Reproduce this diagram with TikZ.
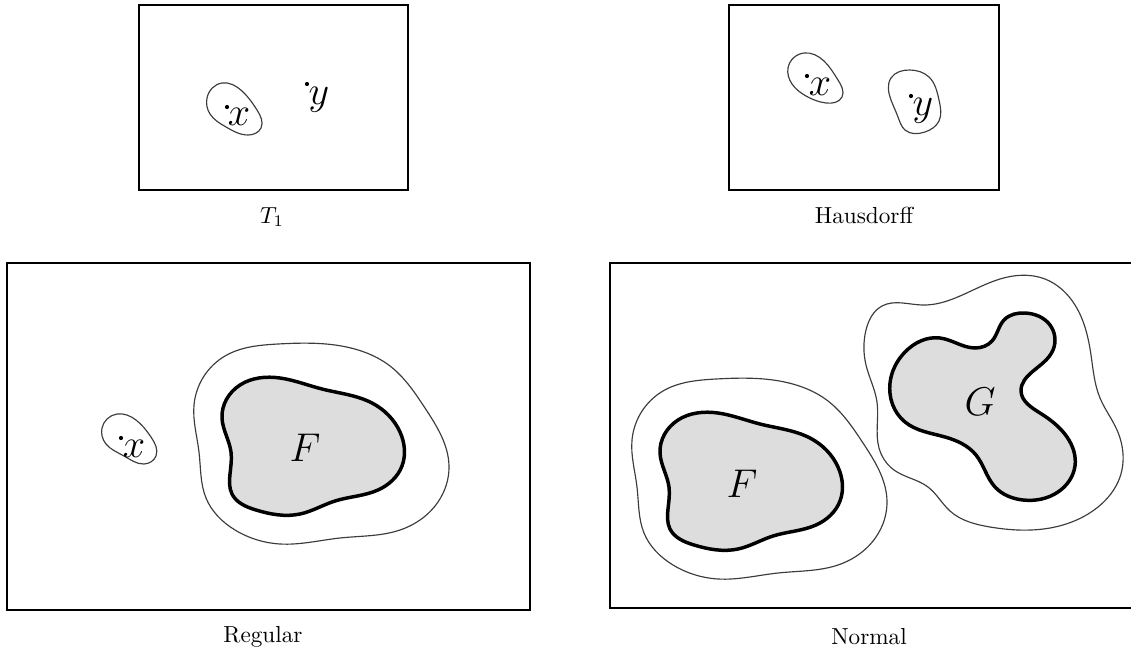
\documentclass[tikz,border=0pt]{standalone}
\usepackage{amsmath,amssymb}
\usepackage{tikz}
\usetikzlibrary{positioning,hobby}
\definecolor{setgrey}{RGB}{221,221,221}
\definecolor{nbhdline}{RGB}{60,60,60}
\tikzset{
  frame/.style={draw,line width=0.85pt},
  nbhd/.style={draw=nbhdline,line width=0.5pt},
  closedset/.style={draw=black,fill=setgrey,line width=1.5pt},
  pt/.style={fill=black},
  ptlabel/.style={inner sep=0pt,font=\fontsize{16}{19}\selectfont},
  caption/.style={inner sep=1pt,font=\normalsize}
}
% shared shapes of the closed set F and its open neighbourhood
\newcommand\Fcore{plot[closed hobby] coordinates{(222,418) (240,385) (280,378) (322,389) (372,403) (400,432) (402,466) (378,490) (335,501) (300,514) (256,510) (232,494) (230,474) (231,452)}}
\newcommand\Fnbhd{plot[closed hobby] coordinates{(194,405) (199,452) (206,498) (235,530) (280,544) (340,538) (400,530) (438,502) (449,466) (425,408) (390,366) (335,345) (278,344) (225,356)}}

\begin{document}
\begin{tikzpicture}[x=0.431pt,y=-0.431pt]
  \useasboundingbox (0,0) rectangle (1131,655);
  % T1
  \draw[frame] (139,5) rectangle (408,190);
  \draw[nbhd] plot[closed hobby] coordinates{(207,98) (222,83) (242,91) (257,110) (261,128) (248,135) (226,127) (210,114)};
  \fill[pt] (227,107) circle[radius=0.9pt];
  \node[ptlabel] (x1) at (239,117) {\(x\)};
  \fill[pt] (307,84) circle[radius=0.9pt];
  \node[ptlabel] (y1) at (319,100) {\(y\)};
  \node[caption] (capT) at (272,217) {\(T_1\)};
  % Hausdorff
  \draw[frame] (729,5) rectangle (999,190);
  \draw[nbhd] plot[closed hobby] coordinates{(788,68) (804,53) (824,61) (838,80) (842,97) (826,103) (806,96) (792,84)};
  \draw[nbhd] plot[closed hobby] coordinates{(891,78) (910,70) (929,77) (939,100) (939,121) (925,132) (905,130) (898,117) (891,100)};
  \fill[pt] (807,76) circle[radius=0.9pt];
  \node[ptlabel] (x2) at (820,87) {\(x\)};
  \fill[pt] (911,96) circle[radius=0.9pt];
  \node[ptlabel] (y2) at (923,111) {\(y\)};
  \node[caption] (capH) at (864,215) {Hausdorff};
  % Regular
  \draw[frame] (7,263) rectangle (530,610);
  \draw[nbhd] plot[closed hobby] coordinates{(102,428) (117,414) (136,420) (151,437) (156,456) (144,464) (124,456) (106,444)};
  \fill[pt] (121,438) circle[radius=0.9pt];
  \node[ptlabel] (x3) at (134,449) {\(x\)};
  \draw[nbhd] \Fnbhd;
  \filldraw[closedset] \Fcore;
  \node[ptlabel] (F1) at (305,448) {\(F\)};
  \node[caption] (capR) at (263,637) {Regular};
  % Normal
  \draw[frame] (610,263) rectangle (1134,608);
  \begin{scope}[shift={(438,35)}]
    \draw[nbhd] \Fnbhd;
    \filldraw[closedset] \Fcore;
  \end{scope}
  \node[ptlabel] (F2) at (742,484) {\(F\)};
  \draw[nbhd] plot[closed hobby] coordinates{(866,330) (882,306) (922,305) (1000,279) (1045,279) (1075,305) (1091,355) (1100,398) (1117,430) (1120,477) (1098,507) (1050,528) (990,527) (950,511) (928,487) (894,470) (879,448) (877,402) (866,365)};
  \filldraw[closedset] plot[closed hobby] coordinates{(890,383) (905,352) (940,338) (975,348) (992,341) (1004,320) (1025,313) (1050,325) (1053,350) (1032,372) (1021,391) (1040,413) (1067,437) (1075,466) (1058,492) (1023,500) (995,487) (976,455) (945,437) (905,422)};
  \node[ptlabel] (G) at (980,402) {\(G\)};
  \node[caption] (capN) at (869,637) {Normal};
\end{tikzpicture}
\end{document}
